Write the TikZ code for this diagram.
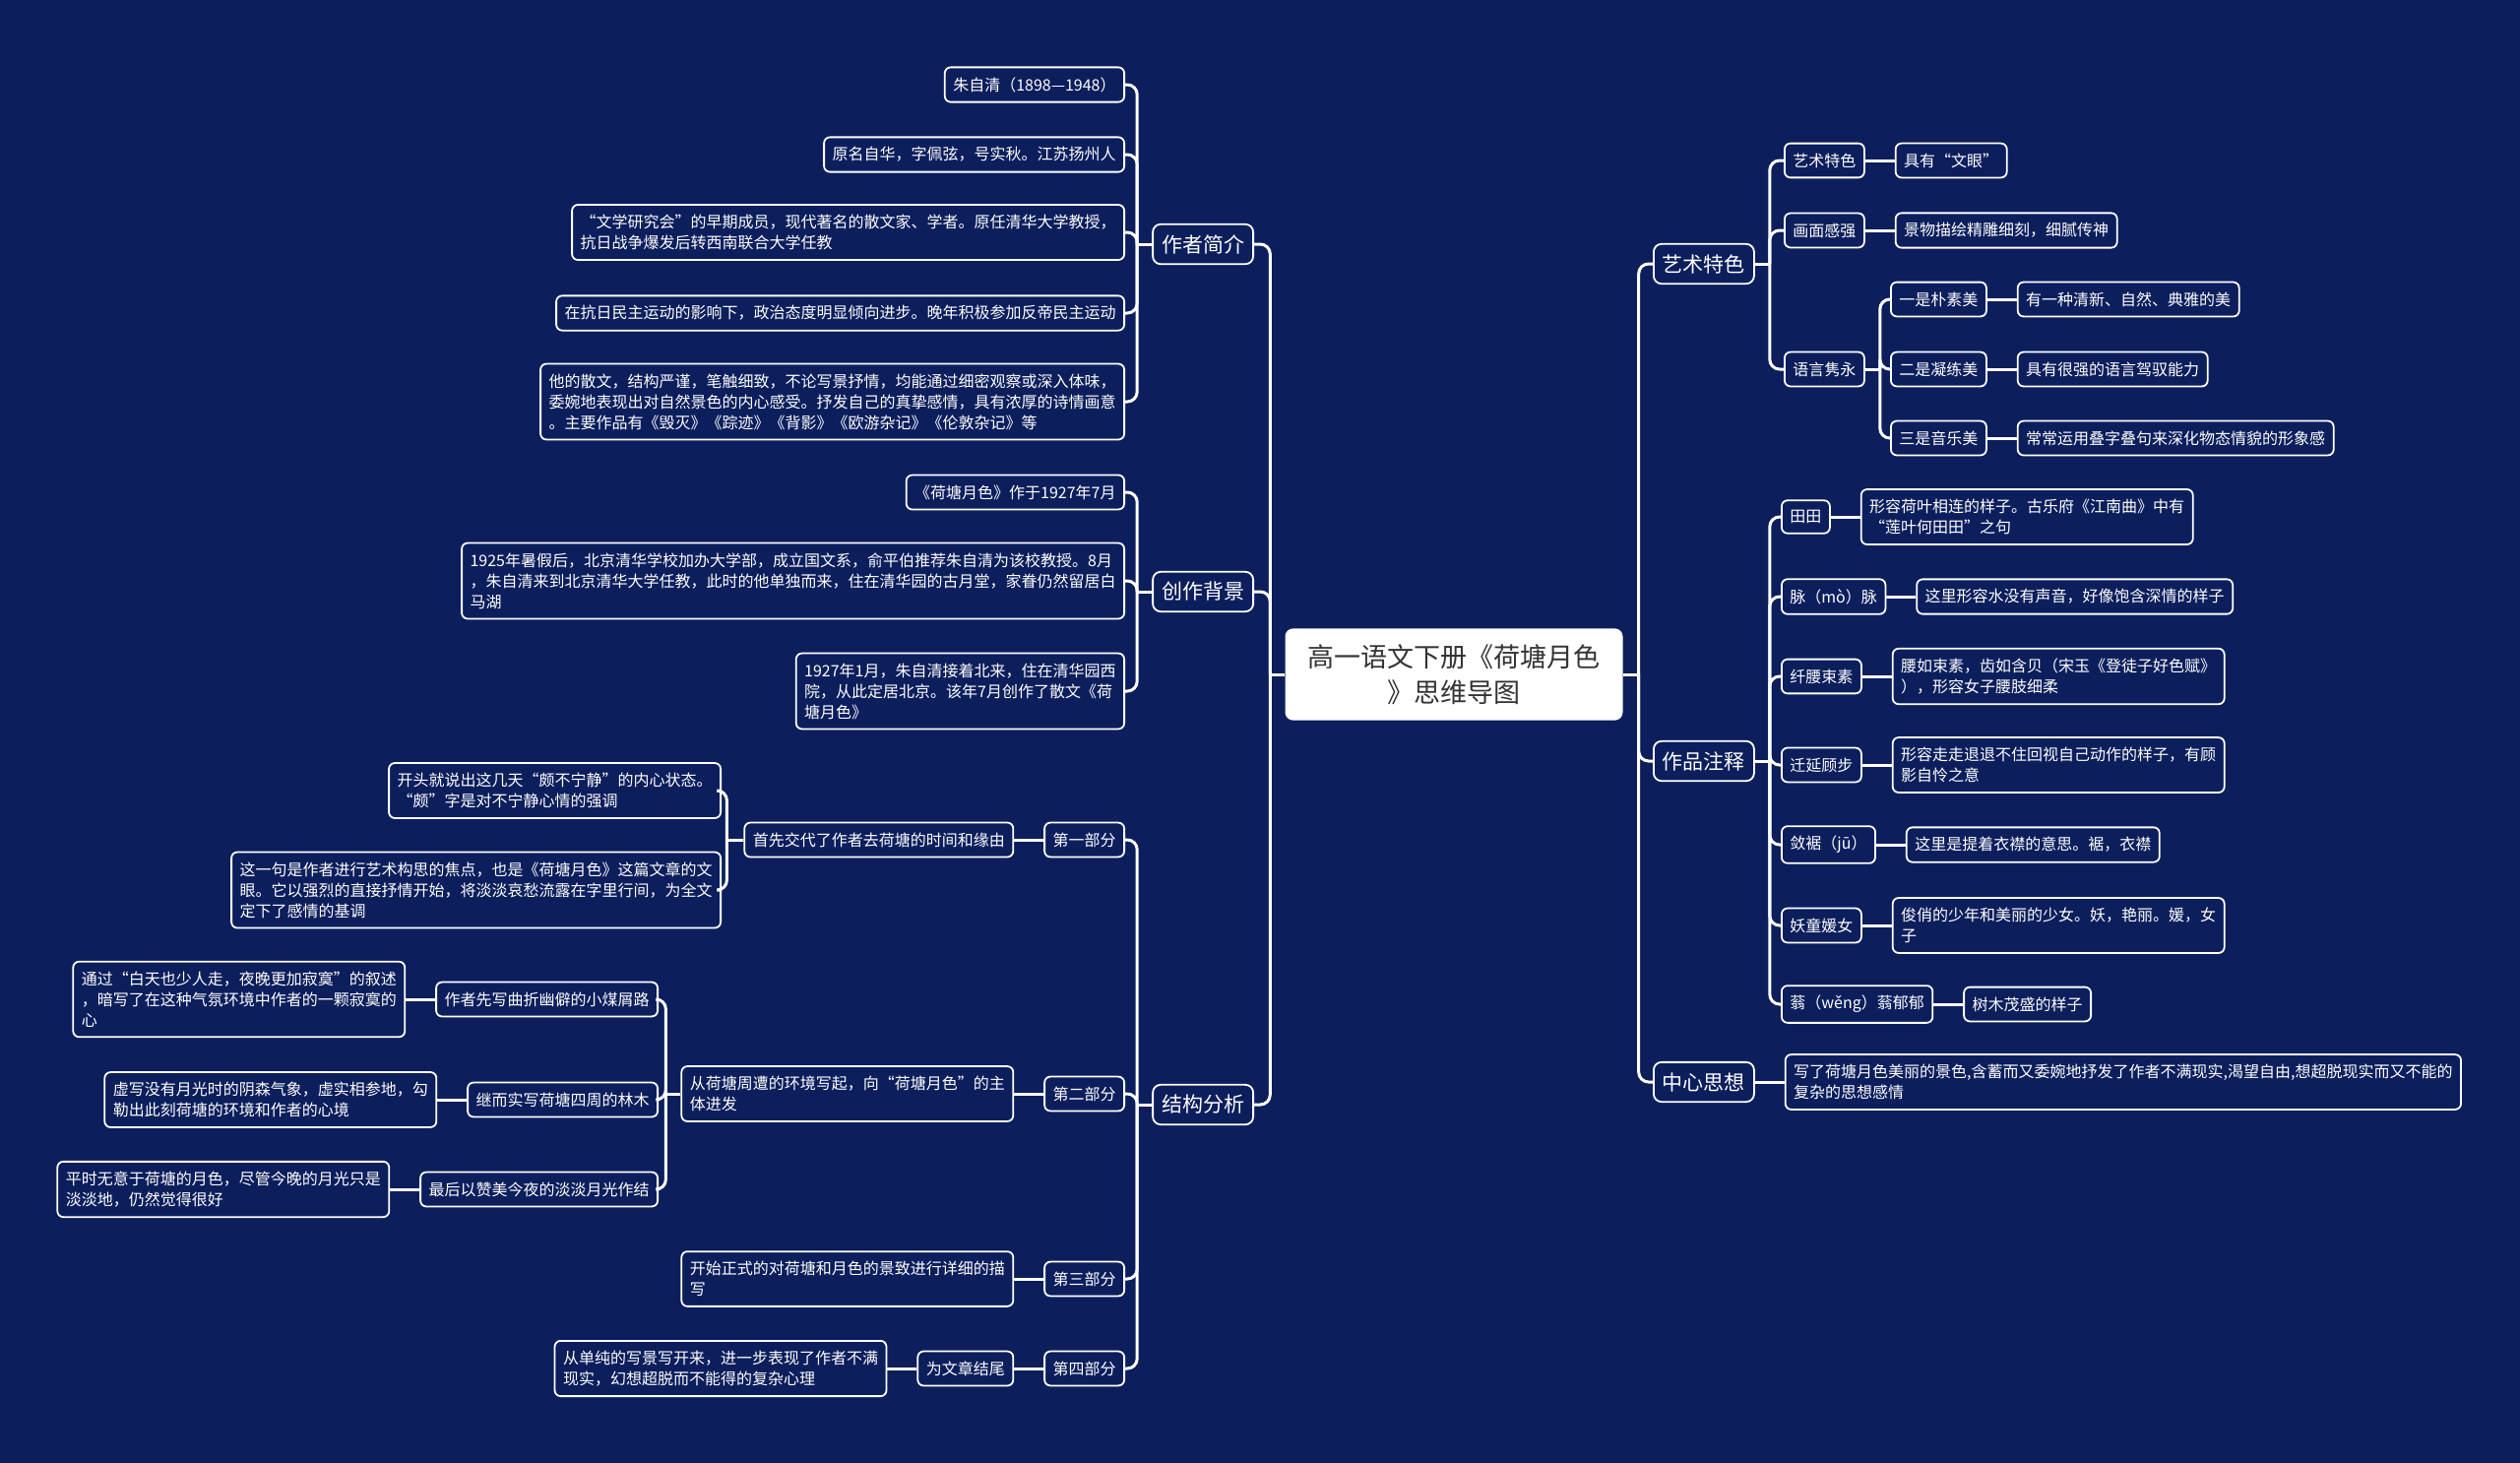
\documentclass[tikz,border=0pt]{standalone}
\usepackage{fontspec}
\setmainfont{Noto Sans CJK SC}
\usetikzlibrary{positioning}
\definecolor{mapnavy}{HTML}{0C1E5C}
\definecolor{titlegray}{HTML}{333333}

\begin{document}
\begin{tikzpicture}[x=1pt,y=-1pt,node distance=30pt,
      box/.style={draw=white,line width=1.8pt,rounded corners=6pt,fill=mapnavy,text=white,align=left,inner xsep=8.5pt,inner ysep=10pt,font=\fontsize{16}{21}\selectfont},
      branch/.style={box,rounded corners=8pt,inner xsep=9pt,inner ysep=10.5pt,font=\fontsize{21}{26}\selectfont},
      rootbox/.style={fill=white,text=titlegray,rounded corners=8pt,align=center,inner xsep=23pt,inner ysep=16pt,font=\fontsize{27}{36}\selectfont},
      link/.style={draw=white,line width=3pt,rounded corners=10pt}]
    \fill[mapnavy] (0,0) rectangle (2560,1486);
    \useasboundingbox (0,0) rectangle (2560,1486);

    \node[rootbox] (root) at (1477,685) {高一语文下册《荷塘月色\\》思维导图};

    \node[branch,anchor=east] (k1) at (1274,248) {作者简介};
    \node[branch,anchor=east] (k2) at (1274,601) {创作背景};
    \node[branch,anchor=east] (k3) at (1274,1122) {结构分析};

    \node[box,anchor=east] (a1) at (1143,86) {朱自清（1898—1948）};
    \node[box,anchor=east] (a2) at (1143,157) {原名自华，字佩弦，号实秋。江苏扬州人};
    \node[box,anchor=east] (a3) at (1143,236) {“文学研究会”的早期成员，现代著名的散文家、学者。原任清华大学教授，\\抗日战争爆发后转西南联合大学任教};
    \node[box,anchor=east] (a4) at (1143,318) {在抗日民主运动的影响下，政治态度明显倾向进步。晚年积极参加反帝民主运动};
    \node[box,anchor=east] (a5) at (1143,408) {他的散文，结构严谨，笔触细致，不论写景抒情，均能通过细密观察或深入体味，\\委婉地表现出对自然景色的内心感受。抒发自己的真挚感情，具有浓厚的诗情画意\\。主要作品有《毁灭》《踪迹》《背影》《欧游杂记》《伦敦杂记》等};

    \node[box,anchor=east] (b1) at (1143,500) {《荷塘月色》作于1927年7月};
    \node[box,anchor=east] (b2) at (1143,590) {1925年暑假后，北京清华学校加办大学部，成立国文系，俞平伯推荐朱自清为该校教授。8月\\，朱自清来到北京清华大学任教，此时的他单独而来，住在清华园的古月堂，家眷仍然留居白\\马湖};
    \node[box,anchor=east] (b3) at (1143,702) {1927年1月，朱自清接着北来，住在清华园西\\院，从此定居北京。该年7月创作了散文《荷\\塘月色》};

    \node[box,anchor=east] (c1) at (1143,853) {第一部分};
    \node[box,anchor=east] (c2) at (1143,1111) {第二部分};
    \node[box,anchor=east] (c3) at (1143,1299) {第三部分};
    \node[box,anchor=east] (c4) at (1143,1390) {第四部分};

    \node[box,left=of c1] (d1) {首先交代了作者去荷塘的时间和缘由};
    \node[box,anchor=east] (e1) at (733,803) {开头就说出这几天“颇不宁静”的内心状态。\\“颇”字是对不宁静心情的强调};
    \node[box,anchor=east] (e2) at (733,904) {这一句是作者进行艺术构思的焦点，也是《荷塘月色》这篇文章的文\\眼。它以强烈的直接抒情开始，将淡淡哀愁流露在字里行间，为全文\\定下了感情的基调};

    \node[box,left=of c2] (d2) {从荷塘周遭的环境写起，向“荷塘月色”的主\\体进发};
    \node[box,anchor=east] (f1) at (669,1015) {作者先写曲折幽僻的小煤屑路};
    \node[box,anchor=east] (f2) at (669,1117) {继而实写荷塘四周的林木};
    \node[box,anchor=east] (f3) at (669,1208) {最后以赞美今夜的淡淡月光作结};
    \node[box,left=of f1] (g1) {通过“白天也少人走，夜晚更加寂寞”的叙述\\，暗写了在这种气氛环境中作者的一颗寂寞的\\心};
    \node[box,left=of f2] (g2) {虚写没有月光时的阴森气象，虚实相参地，勾\\勒出此刻荷塘的环境和作者的心境};
    \node[box,left=of f3] (g3) {平时无意于荷塘的月色，尽管今晚的月光只是\\淡淡地，仍然觉得很好};

    \node[box,left=of c3] (d3) {开始正式的对荷塘和月色的景致进行详细的描\\写};
    \node[box,left=of c4] (d4) {为文章结尾};
    \node[box,left=of d4] (g4) {从单纯的写景写开来，进一步表现了作者不满\\现实，幻想超脱而不能得的复杂心理};

    \node[branch,anchor=west] (r1) at (1679,268) {艺术特色};
    \node[branch,anchor=west] (r2) at (1679,773) {作品注释};
    \node[branch,anchor=west] (r3) at (1679,1099) {中心思想};

    \node[box,anchor=west] (s1) at (1812,163) {艺术特色};
    \node[box,anchor=west] (s2) at (1812,234) {画面感强};
    \node[box,anchor=west] (s3) at (1812,375) {语言隽永};
    \node[box,right=of s1] (v1) {具有“文眼”};
    \node[box,right=of s2] (v2) {景物描绘精雕细刻，细腻传神};
    \node[box,anchor=west] (t1) at (1920,304) {一是朴素美};
    \node[box,anchor=west] (t2) at (1920,375) {二是凝练美};
    \node[box,anchor=west] (t3) at (1920,445) {三是音乐美};
    \node[box,right=of t1] (w1) {有一种清新、自然、典雅的美};
    \node[box,right=of t2] (w2) {具有很强的语言驾驭能力};
    \node[box,right=of t3] (w3) {常常运用叠字叠句来深化物态情貌的形象感};

    \node[box,anchor=west] (u1) at (1809,525) {田田};
    \node[box,anchor=west] (u2) at (1809,606) {脉（mò）脉};
    \node[box,anchor=west] (u3) at (1809,687) {纤腰束素};
    \node[box,anchor=west] (u4) at (1809,777) {迁延顾步};
    \node[box,anchor=west] (u5) at (1809,858) {敛裾（jū）};
    \node[box,anchor=west] (u6) at (1809,940) {妖童媛女};
    \node[box,anchor=west] (u7) at (1809,1020) {蓊（wěng）蓊郁郁};
    \node[box,right=of u1] (x1) {形容荷叶相连的样子。古乐府《江南曲》中有\\“莲叶何田田”之句};
    \node[box,right=of u2] (x2) {这里形容水没有声音，好像饱含深情的样子};
    \node[box,right=of u3] (x3) {腰如束素，齿如含贝（宋玉《登徒子好色赋》\\），形容女子腰肢细柔};
    \node[box,right=of u4] (x4) {形容走走退退不住回视自己动作的样子，有顾\\影自怜之意};
    \node[box,right=of u5] (x5) {这里是提着衣襟的意思。裾，衣襟};
    \node[box,right=of u6] (x6) {俊俏的少年和美丽的少女。妖，艳丽。媛，女\\子};
    \node[box,right=of u7] (x7) {树木茂盛的样子};

    \node[box,right=of r3] (y1) {写了荷塘月色美丽的景色,含蓄而又委婉地抒发了作者不满现实,渴望自由,想超脱现实而又不能的\\复杂的思想感情};

    \coordinate (jL) at ([xshift=-15pt]root.west);
    \coordinate (jR) at ([xshift=16pt]root.east);
    \coordinate (jA) at ([xshift=-15pt]k1.west);
    \coordinate (jB) at ([xshift=-15pt]k2.west);
    \coordinate (jC) at ([xshift=-15pt]k3.west);
    \coordinate (jD) at ([xshift=-17pt]d1.west);
    \coordinate (jF) at ([xshift=-15pt]d2.west);
    \coordinate (jS) at ([xshift=15pt]r1.east);
    \coordinate (jT) at ([xshift=15pt]s3.east);
    \coordinate (jU) at ([xshift=15pt]r2.east);

    \draw[link] (root.west) -- (jL);
    \draw[link] (jL) |- (k1.east);
    \draw[link] (jL) |- (k2.east);
    \draw[link] (jL) |- (k3.east);
    \draw[link] (root.east) -- (jR);
    \draw[link] (jR) |- (r1.west);
    \draw[link] (jR) |- (r2.west);
    \draw[link] (jR) |- (r3.west);

    \draw[link] (k1.west) -- (jA);
    \draw[link] (jA) |- (a1.east);
    \draw[link] (jA) |- (a2.east);
    \draw[link] (jA) |- (a3.east);
    \draw[link] (jA) |- (a4.east);
    \draw[link] (jA) |- (a5.east);

    \draw[link] (k2.west) -- (jB);
    \draw[link] (jB) |- (b1.east);
    \draw[link] (jB) |- (b2.east);
    \draw[link] (jB) |- (b3.east);

    \draw[link] (k3.west) -- (jC);
    \draw[link] (jC) |- (c1.east);
    \draw[link] (jC) |- (c2.east);
    \draw[link] (jC) |- (c3.east);
    \draw[link] (jC) |- (c4.east);

    \draw[link] (c1.west) -- (d1.east);
    \draw[link] (d1.west) -- (jD);
    \draw[link] (jD) |- (e1.east);
    \draw[link] (jD) |- (e2.east);

    \draw[link] (c2.west) -- (d2.east);
    \draw[link] (d2.west) -- (jF);
    \draw[link] (jF) |- (f1.east);
    \draw[link] (jF) |- (f2.east);
    \draw[link] (jF) |- (f3.east);
    \draw[link] (f1.west) -- (g1.east);
    \draw[link] (f2.west) -- (g2.east);
    \draw[link] (f3.west) -- (g3.east);

    \draw[link] (c3.west) -- (d3.east);
    \draw[link] (c4.west) -- (d4.east);
    \draw[link] (d4.west) -- (g4.east);

    \draw[link] (r1.east) -- (jS);
    \draw[link] (jS) |- (s1.west);
    \draw[link] (jS) |- (s2.west);
    \draw[link] (jS) |- (s3.west);
    \draw[link] (s1.east) -- (v1.west);
    \draw[link] (s2.east) -- (v2.west);
    \draw[link] (s3.east) -- (jT);
    \draw[link] (jT) |- (t1.west);
    \draw[link] (jT) |- (t2.west);
    \draw[link] (jT) |- (t3.west);
    \draw[link] (t1.east) -- (w1.west);
    \draw[link] (t2.east) -- (w2.west);
    \draw[link] (t3.east) -- (w3.west);

    \draw[link] (r2.east) -- (jU);
    \draw[link] (jU) |- (u1.west);
    \draw[link] (jU) |- (u2.west);
    \draw[link] (jU) |- (u3.west);
    \draw[link] (jU) |- (u4.west);
    \draw[link] (jU) |- (u5.west);
    \draw[link] (jU) |- (u6.west);
    \draw[link] (jU) |- (u7.west);
    \draw[link] (u1.east) -- (x1.west);
    \draw[link] (u2.east) -- (x2.west);
    \draw[link] (u3.east) -- (x3.west);
    \draw[link] (u4.east) -- (x4.west);
    \draw[link] (u5.east) -- (x5.west);
    \draw[link] (u6.east) -- (x6.west);
    \draw[link] (u7.east) -- (x7.west);

    \draw[link] (r3.east) -- (y1.west);
  \end{tikzpicture}
\end{document}
